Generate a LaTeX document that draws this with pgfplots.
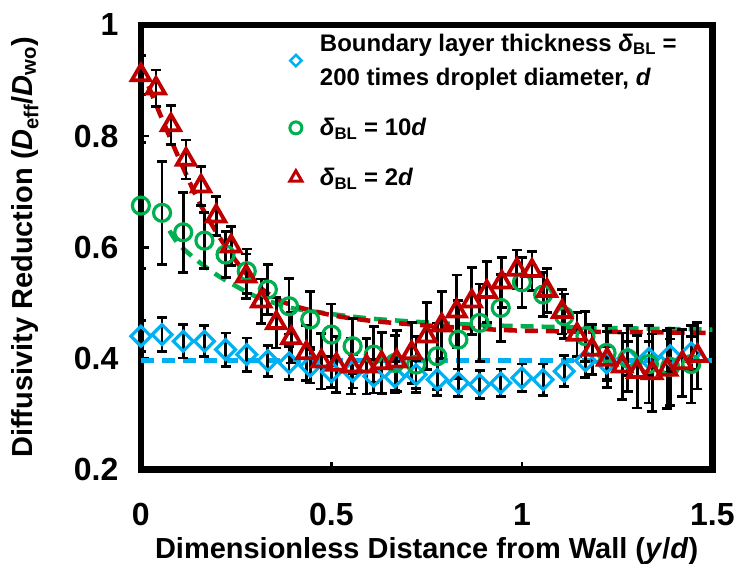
\documentclass[border=0pt]{standalone}
\usepackage{fontspec}
\setmainfont{Liberation Sans}
\usepackage{pgfplots}
\usepackage{pgfplotstable}
\pgfplotsset{compat=1.18}

\definecolor{cblue}{RGB}{0,176,240}
\definecolor{cgreen}{RGB}{0,176,80}
\definecolor{cred}{RGB}{192,0,0}

% delta_BL = 200d
\pgfplotstableread{
x      y      e
0      0.440  0.028
0.0556 0.443  0.030
0.1111 0.431  0.030
0.1667 0.431  0.028
0.2222 0.416  0.030
0.2778 0.407  0.030
0.3333 0.396  0.028
0.3889 0.392  0.030
0.4444 0.386  0.030
0.5000 0.376  0.028
0.5556 0.377  0.030
0.6111 0.368  0.030
0.6667 0.367  0.028
0.7222 0.371  0.025
0.7778 0.362  0.028
0.8333 0.356  0.025
0.8889 0.353  0.025
0.9444 0.356  0.025
1.0000 0.365  0.025
1.0556 0.362  0.028
1.1111 0.377  0.028
1.1667 0.396  0.030
1.2222 0.392  0.030
1.2778 0.400  0.030
1.3333 0.400  0.030
1.3889 0.405  0.030
1.4444 0.410  0.030
}\bluedata

% delta_BL = 10d
\pgfplotstableread{
x      y      e
0      0.675  0.113
0.0556 0.662  0.093
0.1111 0.627  0.072
0.1667 0.612  0.050
0.2222 0.587  0.042
0.2778 0.557  0.040
0.3333 0.524  0.045
0.3889 0.494  0.050
0.4444 0.470  0.050
0.5000 0.443  0.055
0.5556 0.422  0.050
0.6111 0.407  0.050
0.6667 0.392  0.050
0.7222 0.389  0.050
0.7778 0.404  0.060
0.8333 0.434  0.070
0.8889 0.464  0.070
0.9444 0.491  0.060
1.0000 0.537  0.045
1.0556 0.515  0.040
1.1111 0.476  0.040
1.1667 0.440  0.045
1.2222 0.410  0.050
1.2778 0.400  0.060
1.3333 0.390  0.070
1.3889 0.385  0.070
1.4444 0.390  0.070
}\greendata

% delta_BL = 2d
\pgfplotstableread{
x      y      e
0      0.910  0.035
0.0395 0.886  0.033
0.0789 0.820  0.035
0.1184 0.758  0.035
0.1579 0.710  0.035
0.1974 0.656  0.035
0.2368 0.602  0.035
0.2763 0.548  0.040
0.3158 0.503  0.040
0.3553 0.464  0.045
0.3947 0.437  0.045
0.4342 0.410  0.050
0.4737 0.395  0.050
0.5132 0.389  0.050
0.5526 0.386  0.050
0.5921 0.386  0.050
0.6316 0.392  0.055
0.6711 0.395  0.055
0.7105 0.410  0.055
0.7500 0.440  0.060
0.7895 0.460  0.060
0.8289 0.485  0.065
0.8684 0.503  0.060
0.9079 0.520  0.055
0.9474 0.537  0.045
0.9868 0.560  0.035
1.0263 0.558  0.035
1.0658 0.522  0.040
1.1053 0.484  0.040
1.1447 0.443  0.040
1.1842 0.416  0.045
1.2237 0.398  0.050
1.2632 0.386  0.060
1.3026 0.376  0.065
1.3421 0.374  0.070
1.3816 0.380  0.070
1.4211 0.392  0.060
1.4605 0.405  0.060
}\reddata

\begin{document}
\begin{tikzpicture}
\begin{axis}[
    scale only axis,
    width=572pt, height=445pt,
    xmin=0, xmax=1.5, ymin=0.2, ymax=1,
    xtick={0,0.5,1,1.5},
    ytick={0.2,0.4,0.6,0.8,1},
    xtick pos=bottom, ytick pos=left,
    tick align=inside,
    major tick length=8pt,
    tick style={line width=2.5pt, black},
    axis line style={line width=6.5pt, black},
    tick label style={font=\fontsize{32}{36}\selectfont\bfseries,
        /pgf/number format/assume math mode=true},
    xticklabel style={yshift=-30pt},
    yticklabel style={xshift=-19pt},
    xlabel={Dimensionless Distance from Wall (\textit{y}/\textit{d})},
    ylabel={Diffusivity Reduction (\textit{D}\textsubscript{eff}/\textit{D}\textsubscript{wo})},
    every axis x label/.style={at={(axis description cs:0.5,-0.184)}, anchor=center,
        font=\fontsize{29}{33}\selectfont\bfseries},
    every axis y label/.style={at={(axis description cs:-0.203,0.5)}, anchor=center, rotate=90,
        font=\fontsize{29}{33}\selectfont\bfseries},
    error bars/y dir=both,
    error bars/y explicit,
    error bars/error bar style={line width=2.8pt, black},
    error bars/error mark options={rotate=90, mark size=5pt, line width=2.8pt, black},
    legend style={draw=none, fill=none,
        font=\fontsize{24}{31}\selectfont\bfseries,
        at={(axis description cs:0.255,0.99)}, anchor=north west,
        cells={anchor=west, align=left}, row sep=27pt, column sep=16pt},
    legend cell align=left,
]
% fitted curves
\addplot[cblue, line width=4.5pt, dash pattern=on 13pt off 8pt, forget plot]
    coordinates {(0,0.396) (1.5,0.396)};
\addplot[cgreen, line width=4.5pt, dash pattern=on 13pt off 8pt, forget plot, smooth]
    coordinates {(0.075,0.630) (0.1,0.605) (0.15,0.575) (0.2,0.550) (0.25,0.530)
    (0.3,0.512) (0.35,0.500) (0.4,0.490) (0.5,0.480) (0.6,0.472) (0.7,0.467)
    (0.8,0.463) (0.9,0.460) (1.0,0.458) (1.2,0.455) (1.5,0.452)};
\addplot[cred, line width=4.5pt, dash pattern=on 13pt off 8pt, forget plot, smooth]
    coordinates {(0.02,0.890) (0.05,0.840) (0.1,0.760) (0.15,0.685) (0.2,0.625)
    (0.25,0.575) (0.3,0.535) (0.35,0.510) (0.4,0.495) (0.5,0.478) (0.6,0.468)
    (0.7,0.462) (0.8,0.457) (0.9,0.453) (1.0,0.450) (1.2,0.448) (1.5,0.446)};
% data
\addplot[only marks, mark=square, mark size=7pt, mark options={rotate=45, cblue, line width=3.2pt, fill=none}, forget plot]
    table[x=x, y=y, y error=e] {\bluedata};
\addplot[only marks, mark=o, mark size=8.5pt, mark options={cgreen, line width=3.2pt}, forget plot]
    table[x=x, y=y, y error=e] {\greendata};
\addplot[only marks, mark=triangle, mark size=10.5pt, mark options={cred, line width=3.8pt}, forget plot]
    table[x=x, y=y, y error=e] {\reddata};
% legend
\addlegendimage{only marks, mark=square, mark size=4pt, mark options={rotate=45, cblue, line width=2.5pt}}
\addlegendentry{Boundary layer thickness \textit{δ}\textsubscript{BL} =\\[4pt]200 times droplet diameter, \textit{d}}
\addlegendimage{only marks, mark=o, mark size=6pt, mark options={cgreen, line width=3pt}}
\addlegendentry{\textit{δ}\textsubscript{BL} = 10\textit{d}}
\addlegendimage{only marks, mark=triangle, mark size=7pt, mark options={cred, line width=3pt}}
\addlegendentry{\textit{δ}\textsubscript{BL} = 2\textit{d}}
\coordinate (bl) at (axis description cs:-0.2465,-0.2315);
\coordinate (tr) at (axis description cs:1.0437,1.0562);
\end{axis}
\path (bl) rectangle (tr);
\end{tikzpicture}
\end{document}
